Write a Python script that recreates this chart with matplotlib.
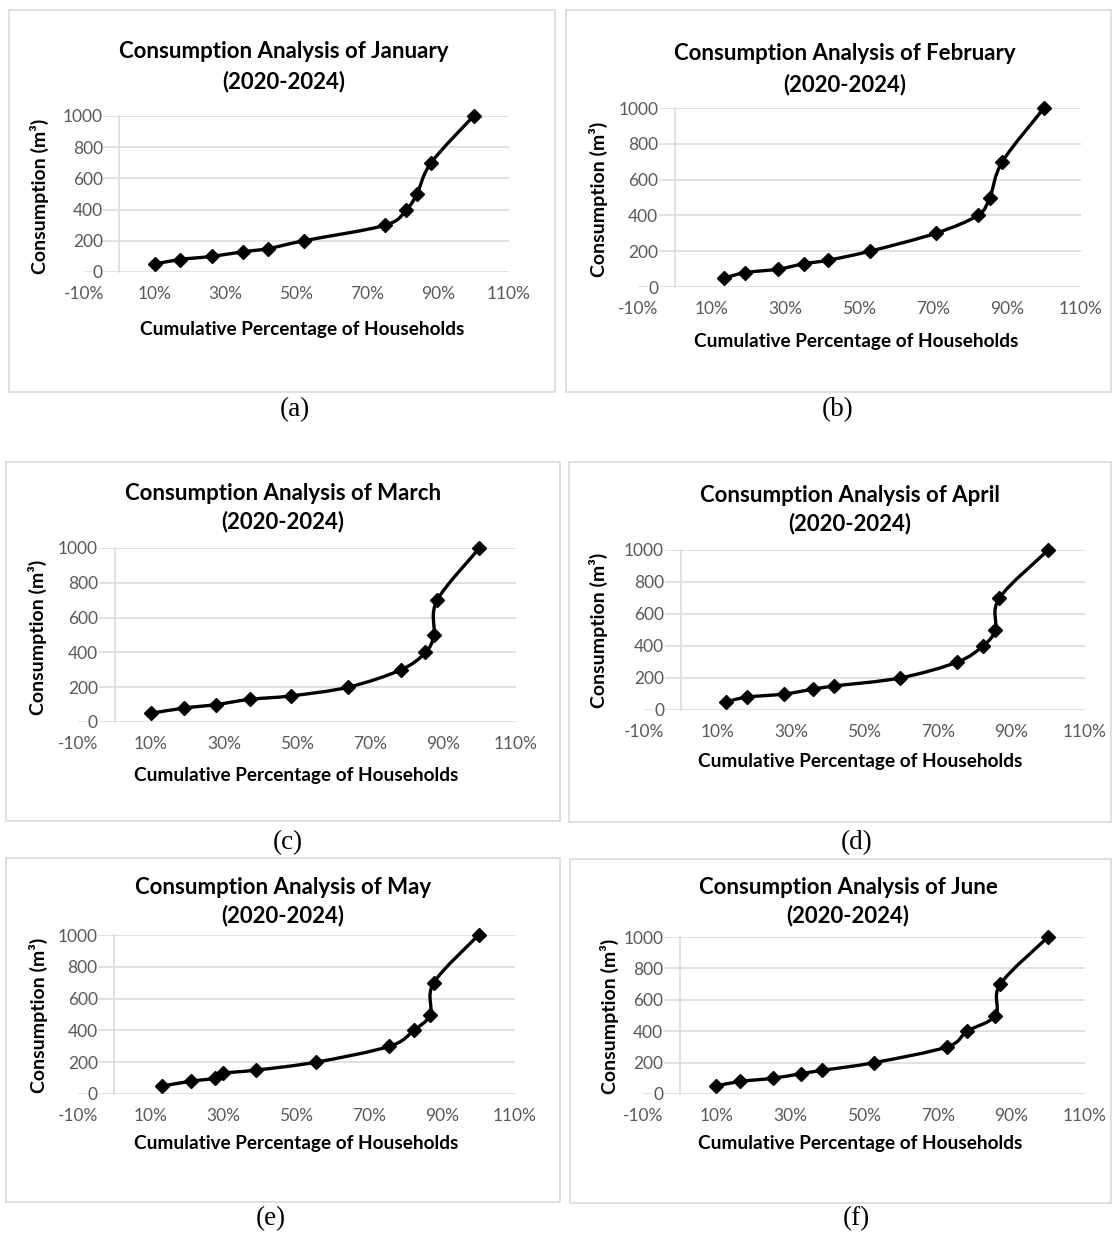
import numpy as np
import matplotlib
matplotlib.use("Agg")
from matplotlib import pyplot as plt
from matplotlib.path import Path
from matplotlib.patches import PathPatch, Rectangle

# ---------------------------- data ---------------------------------
consumption = [50, 80, 100, 130, 150, 200, 300, 400, 500, 700, 1000]

share_jan = [0.10, 0.17, 0.26, 0.35, 0.42, 0.52, 0.75, 0.81, 0.84, 0.88, 1.00]
share_feb = [0.134, 0.19, 0.28, 0.35, 0.416, 0.528, 0.706, 0.82, 0.853, 0.887, 1.00]
share_mar = [0.10, 0.19, 0.278, 0.37, 0.483, 0.64, 0.785, 0.852, 0.875, 0.884, 1.00]
share_apr = [0.123, 0.179, 0.282, 0.36, 0.417, 0.596, 0.753, 0.822, 0.856, 0.867, 1.00]
share_may = [0.131, 0.209, 0.277, 0.299, 0.388, 0.553, 0.755, 0.822, 0.867, 0.877, 1.00]
share_jun = [0.097, 0.164, 0.252, 0.33, 0.385, 0.528, 0.725, 0.78, 0.857, 0.87, 1.00]

months = ["January", "February", "March", "April", "May", "June"]
captions = ["(a)", "(b)", "(c)", "(d)", "(e)", "(f)"]
shares = [share_jan, share_feb, share_mar, share_apr, share_may, share_jun]

x_ticks = [-0.1, 0.1, 0.3, 0.5, 0.7, 0.9, 1.1]
y_ticks = [0, 200, 400, 600, 800, 1000]

W, H = 1113, 1238

# layout in pixels (left, right, top, bottom) of plot area
plot_boxes = [(84, 509, 116, 272), (638, 1081, 108, 287),
              (78, 516, 548, 722), (644, 1085, 550, 710),
              (78, 515, 935, 1094), (643, 1085, 937, 1094)]
frames = [(9, 555, 10, 392), (566, 1111, 10, 392),
          (6, 560, 462, 821), (569, 1111, 462, 822),
          (6, 560, 858, 1202), (570, 1111, 859, 1203)]
title_pos = [(284, 51, 82), (845, 54, 85), (283, 493, 522),
             (850, 495, 524), (283, 887, 916), (848, 887, 916)]
xlabel_pos = [(302, 329), (856, 342), (296, 775), (860, 762), (296, 1144), (860, 1144)]
ylabel_pos = [(39, 196), (598, 199), (37, 637), (598, 630), (38, 1015), (609, 1016)]
caption_pos = [(295, 410), (838, 410), (288, 843), (857, 843), (271, 1219), (856, 1219)]

GRID = "#d9d9d9"
TICK = "#595959"
SANS = ["Lato", "DejaVu Sans"]


def fx(x):
    return x / W


def fy(y):
    return 1 - y / H


def smooth_path(xs, ys, sx, sy):
    """bezier path through the points, excel style smoothing,
       control points worked out in pixel space"""
    px = np.array(xs) * sx
    py = np.array(ys) * sy
    n = len(px)
    verts = [(xs[0], ys[0])]
    codes = [Path.MOVETO]
    for i in range(n - 1):
        i0 = max(i - 1, 0)
        i3 = min(i + 2, n - 1)
        c1 = (px[i] + (px[i + 1] - px[i0]) / 6, py[i] + (py[i + 1] - py[i0]) / 6)
        c2 = (px[i + 1] - (px[i3] - px[i]) / 6, py[i + 1] - (py[i3] - py[i]) / 6)
        verts += [(c1[0] / sx, c1[1] / sy), (c2[0] / sx, c2[1] / sy), (xs[i + 1], ys[i + 1])]
        codes += [Path.CURVE4] * 3
    return Path(verts, codes)


fig = plt.figure(figsize=(W / 100, H / 100), dpi=100)

for k in range(6):
    l, r, t, b = plot_boxes[k]
    fl, fr, ft, fb = frames[k]
    fig.patches.append(Rectangle((fx(fl), fy(fb)), fx(fr - fl), (fb - ft) / H,
                                 transform=fig.transFigure, fill=False,
                                 edgecolor=GRID, linewidth=1.2))

    ax = fig.add_axes([fx(l), fy(b), fx(r - l), (b - t) / H])
    ax.set_xlim(-0.1, 1.1)
    ax.set_ylim(0, 1000)
    ax.patch.set_visible(False)

    # horizontal gridlines (0 line is the x axis)
    ax.hlines(y_ticks, -0.1, 1.1, colors=GRID, linewidth=1.1, zorder=0.5)

    for side in ["top", "right", "bottom"]:
        ax.spines[side].set_visible(False)
    ax.spines["left"].set_position(("data", 0))
    ax.spines["left"].set_color(GRID)
    ax.spines["left"].set_linewidth(1.1)

    ax.set_xticks(x_ticks)
    ax.set_xticklabels([f"{round(v * 100)}%" for v in x_ticks])
    ax.set_yticks(y_ticks)
    ax.set_yticklabels([str(v) for v in y_ticks])
    ax.tick_params(axis="both", length=0, labelsize=12.5, labelcolor=TICK)
    ax.tick_params(axis="x", pad=10)
    ax.tick_params(axis="y", pad=12)
    for lab in ax.get_xticklabels() + ax.get_yticklabels():
        lab.set_fontfamily(SANS)
    for lab in ax.get_yticklabels():
        lab.set_bbox(dict(facecolor="white", edgecolor="none", pad=0.5))

    sx = (r - l) / 1.2
    sy = (b - t) / 1000
    ax.add_patch(PathPatch(smooth_path(shares[k], consumption, sx, sy), fill=False,
                           edgecolor="black", linewidth=2.4, capstyle="round",
                           joinstyle="round", zorder=3))
    ax.plot(shares[k], consumption, linestyle="none", marker="D", markersize=7.5,
            color="black", zorder=4, clip_on=False)

    cx, y1, y2 = title_pos[k]
    fig.text(fx(cx), fy(y1), f"Consumption Analysis of {months[k]}", ha="center",
             va="center", fontsize=16, fontweight="bold", family=SANS)
    fig.text(fx(cx), fy(y2), "(2020-2024)", ha="center", va="center",
             fontsize=16, fontweight="bold", family=SANS)
    fig.text(fx(xlabel_pos[k][0]), fy(xlabel_pos[k][1]), "Cumulative Percentage of Households",
             ha="center", va="center", fontsize=13.7, fontweight="bold", family=SANS)
    fig.text(fx(ylabel_pos[k][0]), fy(ylabel_pos[k][1]), "Consumption (m³)", rotation=90,
             ha="center", va="center", fontsize=14, fontweight="bold", family=SANS)
    fig.text(fx(caption_pos[k][0]), fy(caption_pos[k][1]), captions[k], ha="center",
             va="center", fontsize=19.5, family="Liberation Serif")

fig.savefig("out.png", dpi=100)
